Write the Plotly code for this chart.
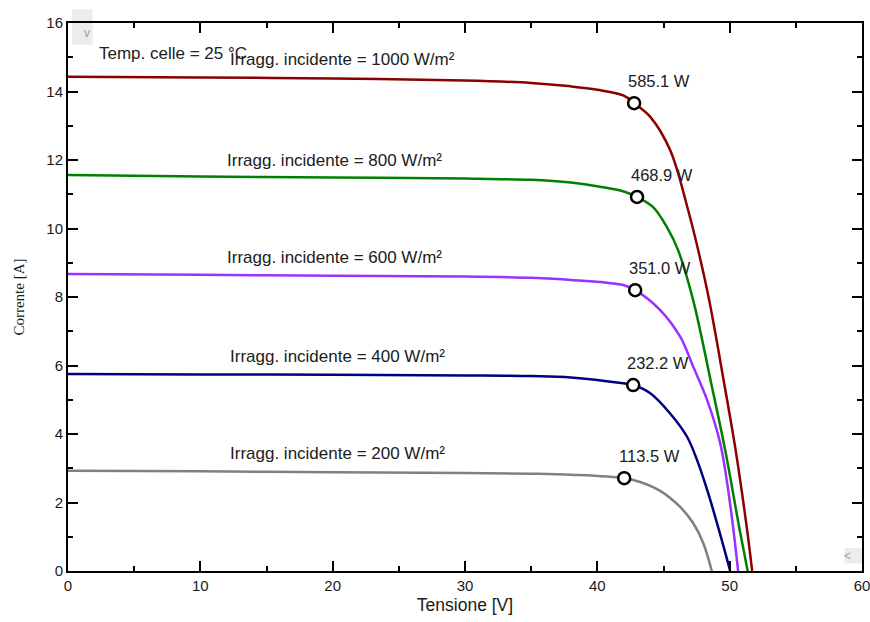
import plotly.graph_objects as go

# ---- data ----
v_1000 = [0, 10, 20, 30, 35.0, 38.0, 40.0, 42.0, 42.78, 44.0, 45.5, 46.86, 47.62, 48.45, 49.58, 50.45, 51.29, 51.7]
i_1000 = [14.43, 14.41, 14.38, 14.32, 14.25, 14.15, 14.05, 13.88, 13.66, 13.26, 12.29, 10.54, 9.37, 7.91, 5.49, 3.53, 1.28, 0]

v_800 = [0, 10, 20, 30, 35.0, 38.0, 40.2, 42.0, 43.0, 44.2, 45.3, 46.1, 47.24, 48.6, 49.66, 50.72, 51.36]
i_800 = [11.56, 11.52, 11.49, 11.46, 11.42, 11.34, 11.22, 11.08, 10.92, 10.63, 10.01, 9.37, 7.91, 5.49, 3.53, 1.28, 0]

v_600 = [0, 10, 20, 30, 35.0, 38.0, 41.95, 42.86, 44.75, 46.26, 47.24, 48.3, 49.28, 49.81, 50.26, 50.64]
i_600 = [8.67, 8.65, 8.62, 8.60, 8.56, 8.50, 8.35, 8.20, 7.62, 6.84, 5.97, 4.99, 3.74, 2.57, 1.28, 0]

v_400 = [0, 10, 20, 30, 35.0, 38.0, 41.95, 42.71, 44.0, 45.5, 46.78, 47.62, 48.37, 49.13, 50.04]
i_400 = [5.75, 5.74, 5.73, 5.71, 5.69, 5.65, 5.48, 5.43, 5.19, 4.60, 3.92, 3.15, 2.28, 1.28, 0]

v_200 = [0, 10, 20, 30, 35.0, 38.0, 42.03, 43.23, 44.75, 46.26, 47.24, 48.0, 48.65]
i_200 = [2.93, 2.91, 2.88, 2.86, 2.84, 2.81, 2.71, 2.60, 2.34, 1.87, 1.40, 0.82, 0]

mpp_v = [42.78, 43.0, 42.86, 42.71, 42.03]
mpp_i = [13.66, 10.92, 8.20, 5.43, 2.71]
mpp_labels = ["585.1 W", "468.9 W", "351.0 W", "232.2 W", "113.5 W"]

irr_labels = ["Irragg. incidente = 1000 W/m²", "Irragg. incidente = 800 W/m²",
              "Irragg. incidente = 600 W/m²", "Irragg. incidente = 400 W/m²",
              "Irragg. incidente = 200 W/m²"]
irr_label_v = [12.1, 11.9, 11.9, 12.1, 12.1]
irr_label_i = [14.92, 12.0, 9.14, 6.25, 3.42]

temp_label = "Temp. celle = 25 °C"

curves = [(v_1000, i_1000, "#8b0000"), (v_800, i_800, "#008000"),
          (v_600, i_600, "#9b30ff"), (v_400, i_400, "#000080"),
          (v_200, i_200, "#808080")]

fig = go.Figure()
for v, i, c in curves:
    fig.add_trace(go.Scatter(x=v, y=i, mode="lines",
                             line=dict(color=c, width=2.5, shape="spline", smoothing=1.0),
                             hoverinfo="skip", showlegend=False))

fig.add_trace(go.Scatter(x=mpp_v, y=mpp_i, mode="markers",
                         marker=dict(symbol="circle", size=12, color="white",
                                     line=dict(color="black", width=2.5)),
                         showlegend=False))

TXT = "Liberation Sans, Arial, sans-serif"
for xv, yv, t in zip(mpp_v, mpp_i, mpp_labels):
    fig.add_annotation(x=xv, y=yv, text=t, showarrow=False, xanchor="center",
                       yanchor="middle", xshift=25, yshift=22,
                       font=dict(family=TXT, size=16.5, color="#202020"))

for xv, yv, t in zip(irr_label_v, irr_label_i, irr_labels):
    fig.add_annotation(x=xv, y=yv, text=t, showarrow=False, xanchor="left",
                       yanchor="middle", font=dict(family=TXT, size=17, color="#202020"))

fig.add_annotation(x=2.2, y=15.12, text=temp_label, showarrow=False, xanchor="left",
                   yanchor="middle", font=dict(family=TXT, size=17, color="#202020"))

# scroll widgets (UI artefacts in the picture)
fig.add_shape(type="rect", xref="paper", yref="paper", x0=0.005, x1=0.031, y0=0.96, y1=1.025,
              fillcolor="#ececec", line=dict(width=0), layer="below")
fig.add_annotation(xref="paper", yref="paper", x=0.018, y=0.982, text="v", showarrow=False,
                   yanchor="middle", font=dict(family=TXT, size=12, color="#a0a0a0"))
fig.add_shape(type="rect", xref="paper", yref="paper", x0=0.978, x1=1.0, y0=0.014, y1=0.042,
              fillcolor="#ececec", line=dict(width=0), layer="below")
fig.add_annotation(xref="paper", yref="paper", x=0.989, y=0.028, text="<", showarrow=False,
                   yanchor="middle", font=dict(family=TXT, size=12, color="#a0a0a0"))

TICKF = "Liberation Sans Narrow, Liberation Sans, Arial, sans-serif"
fig.update_xaxes(range=[0, 60], dtick=10, tick0=0, showgrid=False, zeroline=False,
                 automargin=False, ticklabeloverflow="allow",
                 showline=True, linecolor="black", linewidth=2, mirror="ticks",
                 ticks="inside", ticklen=10, tickwidth=2, tickcolor="black",
                 minor=dict(dtick=5, ticks="inside", ticklen=5, tickwidth=2, tickcolor="black"),
                 tickfont=dict(family=TICKF, size=15, color="#1a1a1a"),
                 title=dict(text="Tensione [V]", font=dict(family=TICKF, size=17.5, color="#1a1a1a"),
                            standoff=6))
fig.update_yaxes(range=[0, 16], dtick=2, tick0=0, showgrid=False, zeroline=False,
                 automargin=False, ticklabeloverflow="allow",
                 showline=True, linecolor="black", linewidth=2, mirror="ticks",
                 ticks="inside", ticklen=10, tickwidth=2, tickcolor="black",
                 minor=dict(dtick=1, ticks="inside", ticklen=5, tickwidth=2, tickcolor="black"),
                 tickfont=dict(family=TICKF, size=15, color="#1a1a1a"),
                 title=dict(text="Corrente [A]", font=dict(family="Liberation Serif, serif", size=15, color="#1a1a1a"),
                            standoff=18))

fig.update_layout(width=870, height=622, margin=dict(l=68, r=8, t=23, b=51),
                  paper_bgcolor="white", plot_bgcolor="white", showlegend=False)

fig.write_html("out.html")
